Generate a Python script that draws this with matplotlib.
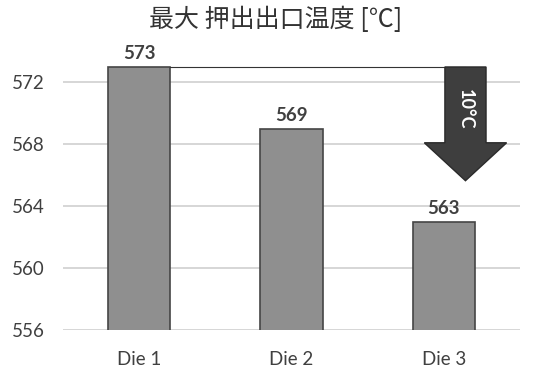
import matplotlib
matplotlib.use("Agg")
import matplotlib.pyplot as plt
from matplotlib.patches import Polygon

plt.rcParams['font.family'] = ['Lato', 'Noto Sans CJK JP', 'DejaVu Sans']

categories = ["Die 1", "Die 2", "Die 3"]
values = [573, 569, 563]
yticks = [556, 560, 564, 568, 572]
title = "最大 押出出口温度 [℃]"

fig = plt.figure(figsize=(5.51, 3.72), dpi=100)
ax = fig.add_axes([63 / 551, 1 - 330 / 372, 457 / 551, (330 - 51.5) / 372])

x = list(range(len(categories)))
ax.bar(x, values, width=0.41, color="#8f8f8f", edgecolor="#454545",
       linewidth=1.2, zorder=3)

for xi, v in zip(x, values):
    ax.text(xi, v + 0.3, f"{v}", ha="center", va="bottom", fontsize=13.5,
            fontweight="bold", color="#404040", zorder=5)

ax.set_xlim(-0.5, len(categories) - 0.5)
ax.set_ylim(556, 574)
ax.set_yticks(yticks)
ax.set_xticks(x)
ax.set_xticklabels(categories)
ax.tick_params(axis="both", length=0, labelsize=13.5, colors="#404040")
ax.tick_params(axis="y", pad=13)
ax.tick_params(axis="x", pad=15)
ax.yaxis.grid(True, color="#cfcfcf", linewidth=1.2, zorder=0)
for s in ax.spines.values():
    s.set_visible(False)

# connector from the highest bar to the drop arrow
top = values[0]
low = values[-1]
ax.plot([0 + 0.205, 2.14], [top, top], color="#333333", linewidth=0.8, zorder=4)

# downward arrow showing the temperature drop
cx = 2.142
sw = 0.135
hw = 0.27
head_base = 568.1
tip = 565.65
arrow = Polygon([(cx - sw, top), (cx + sw, top), (cx + sw, head_base),
                 (cx + hw, head_base), (cx, tip), (cx - hw, head_base),
                 (cx - sw, head_base)], closed=True, facecolor="#3e3e3e",
                edgecolor="#2a2a2a", linewidth=1, zorder=6)
ax.add_patch(arrow)
ax.text(cx, (top + head_base) / 2 - 0.3, f"{top - low}°C", rotation=-90,
        ha="center", va="center", fontsize=13, fontweight="bold",
        color="white", zorder=7)

fig.text(0.5, 1 - 20 / 372, title, ha="center", va="center", fontsize=18,
         color="#333333", family=['Noto Sans CJK JP', 'DejaVu Sans'])

fig.savefig("out.png", dpi=100)
